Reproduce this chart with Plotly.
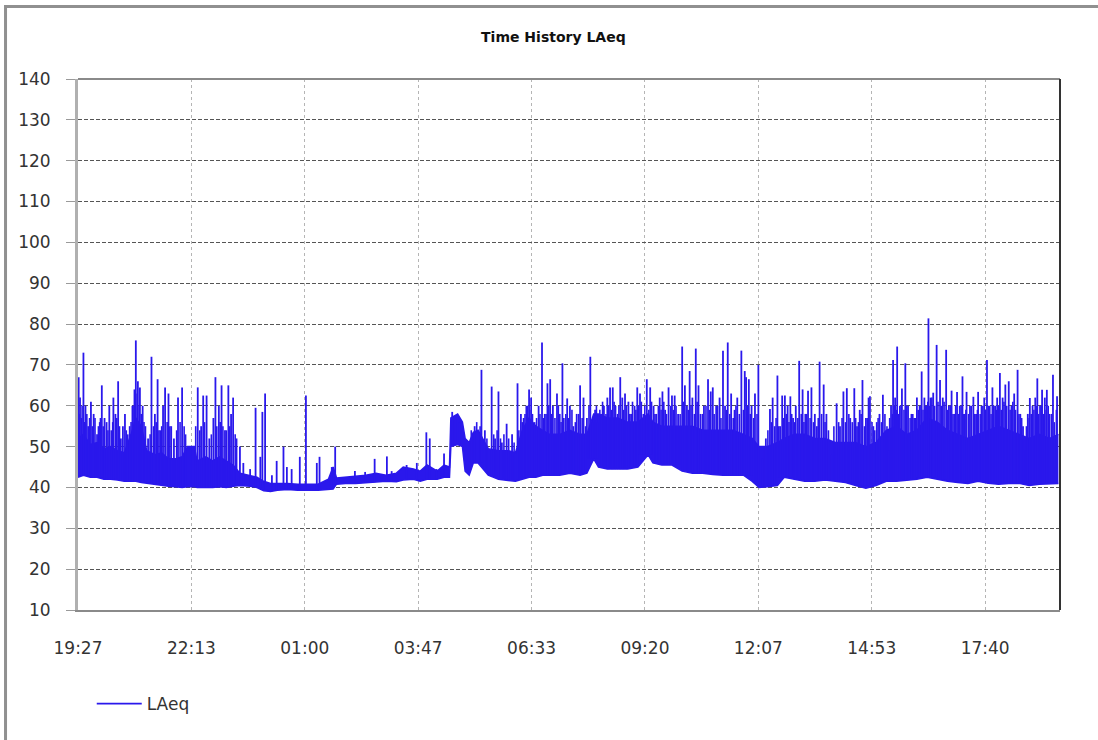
import bisect
from datetime import datetime, timedelta

import plotly.graph_objects as go

# ---- data -------------------------------------------------------------
# Axis tick labels (one every 10000 s starting at 19:27)
tick_labels = ["19:27", "22:13", "01:00", "03:47", "06:33",
               "09:20", "12:07", "14:53", "17:40"]

# Dense body of the LAeq record: lower and upper envelope (dB) at clock times
band_time = [
    "19:27", "19:35", "19:45", "19:55", "20:05", "20:15", "20:25", "20:35", "20:45", "20:52",
    "21:00", "21:08", "21:20", "21:30", "21:40", "21:50", "22:00", "22:08", "22:18", "22:22",
    "22:35", "22:45", "22:55", "23:05", "23:15", "23:25", "23:40", "23:50", "00:00", "00:10",
    "00:20", "00:35", "00:50", "01:05", "01:20", "01:35", "01:42", "01:47", "02:00", "02:15",
    "02:30", "02:45", "03:00", "03:15", "03:25", "03:40", "03:50", "04:00", "04:15", "04:25",
    "04:33", "04:35", "04:45", "04:52", "04:56", "05:02", "05:08", "05:15", "05:22", "05:30",
    "05:45", "06:00", "06:10", "06:20", "06:30", "06:40", "06:50", "07:00", "07:15", "07:30",
    "07:45", "07:55", "08:05", "08:12", "08:25", "08:40", "08:55", "09:10", "09:25", "09:32",
    "09:45", "10:00", "10:15", "10:30", "10:45", "11:00", "11:15", "11:30", "11:45", "11:58",
    "12:08", "12:20", "12:35", "12:45", "13:00", "13:15", "13:30", "13:45", "14:00", "14:15",
    "14:30", "14:45", "15:00", "15:15", "15:30", "15:45", "16:00", "16:15", "16:30", "16:45",
    "17:00", "17:15", "17:30", "17:45", "18:00", "18:15", "18:30", "18:45", "19:00", "19:15",
    "19:28",
]
band_floor = [
    42.5, 43.0, 42.5, 42.5, 42.0, 42.0, 41.8, 41.5, 41.5, 41.5,
    41.2, 41.0, 40.8, 40.5, 40.3, 40.2, 40.0, 40.2, 40.2, 40.0,
    40.0, 40.0, 40.2, 40.0, 40.3, 40.5, 40.3, 40.0, 39.2, 39.0,
    39.3, 39.5, 39.3, 39.4, 39.3, 39.5, 39.6, 40.8, 41.0, 41.0,
    41.2, 41.3, 41.5, 41.4, 41.8, 42.0, 41.5, 42.0, 42.0, 42.5,
    42.5, 50.0, 50.5, 50.0, 44.0, 43.0, 46.0, 46.0, 44.5, 43.0,
    42.0, 41.8, 41.5, 42.0, 42.5, 42.5, 43.0, 43.0, 43.0, 43.5,
    43.0, 43.5, 47.0, 45.0, 44.5, 44.5, 44.5, 45.0, 48.0, 46.0,
    45.5, 45.5, 44.0, 43.5, 43.5, 43.2, 43.0, 43.0, 43.0, 41.5,
    40.0, 40.2, 40.5, 42.5, 42.0, 41.5, 41.5, 41.8, 41.5, 41.2,
    40.5, 39.8, 40.5, 41.5, 41.5, 41.8, 42.0, 42.5, 42.0, 41.5,
    41.2, 41.0, 41.5, 41.0, 40.8, 41.0, 41.0, 40.5, 40.8, 41.0,
    41.0,
]
band_top = [
    52.0, 53.0, 50.5, 51.0, 49.5, 50.0, 49.0, 48.5, 53.0, 57.0,
    55.0, 49.0, 48.0, 48.5, 47.0, 47.0, 47.5, 50.0, 50.0, 46.5,
    47.5, 46.5, 47.5, 46.5, 45.5, 43.5, 43.0, 42.5, 41.5, 41.0,
    41.0, 41.0, 40.8, 40.8, 40.8, 42.0, 45.0, 42.3, 42.5, 42.8,
    43.0, 43.5, 43.0, 43.5, 45.0, 44.5, 44.0, 45.5, 44.0, 45.5,
    45.0, 57.0, 58.0, 56.0, 52.0, 51.0, 53.5, 54.0, 52.0, 49.5,
    49.0, 49.0, 48.5, 54.0, 57.0, 55.0, 54.0, 53.0, 53.0, 54.0,
    53.0, 53.0, 58.0, 58.0, 57.0, 57.0, 56.0, 56.0, 58.0, 56.0,
    55.0, 55.0, 55.0, 55.0, 54.0, 54.0, 54.0, 54.0, 53.0, 52.0,
    50.0, 50.0, 51.0, 52.0, 53.0, 53.0, 52.0, 52.0, 51.0, 51.0,
    51.0, 50.0, 51.0, 54.0, 55.0, 53.0, 54.0, 57.0, 56.0, 54.0,
    53.0, 52.0, 53.0, 54.0, 55.0, 54.0, 53.0, 52.0, 53.0, 52.0,
    53.0,
]

# Distinct noise events above the body: clock time and peak level (dB)
spike_time = [
    "19:28", "19:30", "19:32", "19:35", "19:38", "19:42", "19:46", "19:50", "19:55", "19:59",
    "20:02", "20:06", "20:09", "20:13", "20:16", "20:19", "20:22", "20:26", "20:30", "20:33",
    "20:36", "20:40", "20:43", "20:47", "20:50", "20:52", "20:55", "20:58", "21:02", "21:06",
    "21:10", "21:15", "21:20", "21:24", "21:28", "21:32", "21:35", "21:40", "21:44", "21:48",
    "21:54", "22:00", "22:05", "22:13", "22:23", "22:28", "22:31", "22:36", "22:40", "22:46",
    "22:49", "22:54", "22:58", "23:03", "23:08", "23:12", "23:15", "23:20", "23:25", "23:30",
    "23:40", "23:48", "23:55", "23:58", "00:02", "00:12", "00:19", "00:29", "00:34", "00:41",
    "00:53", "01:02", "01:18", "01:22", "01:40", "01:45", "02:14", "02:29", "02:43", "03:01",
    "03:08", "03:30", "03:45", "03:59", "04:04", "04:14", "04:25", "04:37", "04:42", "04:48",
    "05:10", "05:20", "05:25", "05:35", "05:40", "05:45", "05:50", "05:57", "06:05", "06:13",
    "06:18", "06:22", "06:26", "06:30", "06:33", "06:38", "06:44", "06:49", "06:53", "06:57",
    "07:01", "07:05", "07:11", "07:15", "07:19", "07:21", "07:26", "07:30", "07:35", "07:40",
    "07:45", "07:50", "07:55", "08:00", "08:03", "08:07", "08:11", "08:16", "08:20", "08:25",
    "08:29", "08:33", "08:37", "08:44", "08:47", "08:51", "08:56", "09:00", "09:05", "09:09",
    "09:13", "09:18", "09:23", "09:28", "09:33", "09:37", "09:42", "09:46", "09:50", "09:55",
    "10:00", "10:04", "10:09", "10:15", "10:19", "10:22", "10:26", "10:30", "10:35", "10:39",
    "10:42", "10:47", "10:53", "10:57", "11:00", "11:05", "11:10", "11:15", "11:18", "11:22",
    "11:27", "11:32", "11:36", "11:42", "11:47", "11:49", "11:53", "11:57", "12:02", "12:07",
    "12:13", "12:18", "12:24", "12:28", "12:31", "12:35", "12:39", "12:42", "12:46", "12:50",
    "12:54", "12:58", "13:02", "13:07", "13:12", "13:16", "13:20", "13:25", "13:30", "13:33",
    "13:37", "13:43", "13:47", "13:55", "14:02", "14:07", "14:12", "14:17", "14:22", "14:28",
    "14:32", "14:36", "14:40", "14:45", "14:49", "14:51", "14:56", "15:01", "15:05", "15:10",
    "15:18", "15:22", "15:25", "15:28", "15:31", "15:35", "15:38", "15:43", "15:47", "15:52",
    "15:56", "16:00", "16:04", "16:07", "16:11", "16:14", "16:17", "16:20", "16:24", "16:29",
    "16:34", "16:38", "16:43", "16:47", "16:51", "16:55", "16:59", "17:03", "17:07", "17:10",
    "17:13", "17:18", "17:23", "17:27", "17:30", "17:35", "17:39", "17:43", "17:47", "17:51",
    "17:55", "17:58", "18:02", "18:06", "18:10", "18:15", "18:19", "18:23", "18:28", "18:32",
    "18:36", "18:39", "18:43", "18:46", "18:50", "18:54", "18:57", "19:01", "19:04", "19:08",
    "19:11", "19:15", "19:20", "19:23", "19:26",
]
spike_peak = [
    67.0, 62.0, 57.0, 73.0, 60.0, 55.0, 61.0, 58.0, 53.0, 56.0,
    65.0, 57.0, 56.0, 60.0, 54.0, 62.0, 58.0, 66.0, 52.0, 55.0,
    58.0, 53.0, 55.0, 60.0, 64.0, 76.0, 66.0, 64.5, 60.0, 55.0,
    52.0, 72.0, 58.0, 66.5, 54.0, 60.0, 64.5, 63.0, 55.0, 52.0,
    62.0, 64.5, 53.0, 50.0, 64.5, 55.0, 62.5, 62.5, 52.0, 57.0,
    67.0, 60.0, 65.0, 54.0, 65.0, 58.0, 62.0, 52.0, 50.0, 46.0,
    44.5, 59.5, 47.5, 58.5, 63.0, 43.0, 46.5, 50.0, 45.0, 44.5,
    47.5, 62.5, 46.0, 47.5, 45.0, 50.0, 44.0, 43.8, 47.0, 47.6,
    44.0, 45.5, 46.0, 53.5, 52.0, 44.5, 48.3, 58.5, 57.0, 56.0,
    55.0, 68.8, 54.0, 64.7, 52.0, 63.5, 51.0, 55.6, 53.0, 65.5,
    58.0, 57.0, 60.0, 64.0, 62.0, 56.0, 60.0, 75.5, 58.0, 65.5,
    66.5, 60.0, 63.0, 58.0, 70.4, 57.0, 61.8, 60.0, 55.0, 58.0,
    65.0, 62.0, 57.0, 72.0, 56.0, 59.0, 56.0, 58.0, 60.0, 62.0,
    64.5, 64.5, 60.0, 67.0, 62.0, 63.0, 61.0, 58.0, 60.0, 64.5,
    63.0, 58.0, 66.5, 64.5, 60.0, 58.0, 62.0, 63.5, 59.0, 64.5,
    62.5, 62.5, 58.0, 74.5, 65.0, 60.0, 68.5, 62.0, 74.0, 65.0,
    58.0, 60.0, 66.5, 63.5, 64.5, 60.0, 62.0, 73.5, 60.0, 75.5,
    63.0, 59.0, 62.0, 73.5, 68.5, 67.0, 66.5, 60.0, 63.0, 70.0,
    47.0, 52.0, 59.2, 62.0, 55.0, 67.4, 55.0, 62.5, 62.5, 60.0,
    62.3, 57.0, 60.0, 71.0, 64.0, 58.0, 63.7, 64.5, 58.0, 55.0,
    70.8, 65.2, 58.0, 48.0, 60.6, 55.0, 63.5, 64.3, 57.0, 64.3,
    55.0, 59.0, 66.3, 57.0, 62.0, 62.3, 55.0, 56.0, 58.0, 62.7,
    49.0, 60.0, 71.2, 62.0, 74.5, 60.0, 64.2, 70.4, 60.0, 58.0,
    57.0, 62.0, 60.0, 68.4, 62.0, 60.0, 81.4, 62.0, 63.2, 74.9,
    66.3, 62.0, 73.7, 60.0, 63.7, 58.0, 63.4, 60.0, 67.2, 58.0,
    63.4, 60.0, 62.2, 58.0, 63.4, 60.0, 62.0, 71.2, 60.0, 64.5,
    60.0, 62.0, 68.0, 62.0, 65.2, 66.0, 60.0, 63.0, 68.8, 58.0,
    55.0, 49.0, 58.0, 61.9, 60.0, 62.0, 66.7, 60.0, 63.9, 62.0,
    63.9, 58.0, 67.6, 45.0, 62.3,
]

# Smaller, frequent fluctuations that thicken the upper part of the trace
minor_time = [
    "19:29", "19:33", "19:37", "19:40", "19:44", "19:48", "19:52", "19:57", "20:00", "20:04",
    "20:11", "20:18", "20:24", "20:28", "20:38", "20:45", "20:48", "20:51", "20:54", "20:57",
    "21:00", "21:04", "21:13", "21:18", "21:22", "21:26", "21:30", "21:38", "21:42", "21:52",
    "21:57", "22:03", "22:20", "22:26", "22:33", "22:43", "22:51", "22:56", "23:00", "23:05",
    "23:10", "23:18",
    "05:05", "05:13", "05:18", "05:28", "05:38", "05:43", "05:48", "05:53", "06:00", "06:08",
    "06:15", "06:20", "06:24", "06:28", "06:31", "06:35", "06:41", "06:46", "06:51", "06:55",
    "06:59",
    "07:03", "07:08", "07:13", "07:17", "07:24", "07:28", "07:33", "07:38", "07:43", "07:48",
    "07:53", "07:58", "08:05", "08:09", "08:14", "08:18", "08:23", "08:27", "08:31", "08:35",
    "08:40", "08:42", "08:49", "08:53", "08:58", "09:02", "09:07", "09:11", "09:15", "09:20",
    "09:26", "09:30", "09:35", "09:40", "09:44", "09:48", "09:52", "09:58", "10:02", "10:06",
    "10:12", "10:17", "10:24", "10:28", "10:33", "10:37", "10:45", "10:50", "10:55", "11:02",
    "11:07", "11:12", "11:20", "11:25", "11:30", "11:34", "11:39", "11:45", "11:51", "11:55",
    "12:00", "12:05", "12:16", "12:21", "12:26", "12:33", "12:37", "12:44", "12:48", "12:52",
    "12:56", "13:00", "13:05", "13:10", "13:14", "13:18", "13:23", "13:28", "13:35", "13:40",
    "13:45", "13:50", "13:58", "14:05", "14:10", "14:15", "14:20", "14:25", "14:30", "14:34",
    "14:38", "14:43", "14:47", "14:54", "14:58", "15:03", "15:08", "15:13", "15:16", "15:20",
    "15:24", "15:27", "15:30", "15:33", "15:37", "15:41", "15:45", "15:50", "15:54", "15:58",
    "16:02", "16:06", "16:09", "16:13", "16:16", "16:19", "16:22", "16:26", "16:31", "16:36",
    "16:40", "16:45", "16:49", "16:53", "16:57", "17:01", "17:05", "17:09", "17:12", "17:16",
    "17:20", "17:25", "17:29", "17:33", "17:37", "17:41", "17:45", "17:49", "17:53", "17:57",
    "18:00", "18:04", "18:08", "18:12", "18:17", "18:21", "18:25", "18:30", "18:34", "18:41",
    "18:45", "18:48", "18:52", "18:56", "18:59", "19:03", "19:06", "19:10", "19:13", "19:18",
    "19:22", "19:25",
]
minor_peak = [
    58, 60, 56, 58, 57, 55, 57, 55, 57, 55,
    54, 56, 57, 55, 54, 56, 60, 62, 63, 60,
    58, 56, 53, 55, 56, 54, 55, 56, 55, 54,
    56, 55, 55, 54, 56, 53, 55, 56, 55, 54,
    55, 53,
    54, 56, 55, 52, 53, 54, 52, 53, 52, 51,
    54, 56, 58, 60, 59, 58, 57, 58, 57, 58,
    60,
    58, 57, 60, 56, 58, 57, 59, 56, 58, 57,
    55, 60, 58, 60, 59, 61, 58, 60, 59, 61,
    58, 60, 59, 60, 58, 61, 59, 60, 61, 60,
    59, 61, 58, 60, 59, 61, 58, 60, 59, 60,
    58, 61, 59, 60, 58, 61, 58, 60, 59, 58,
    60, 57, 59, 58, 57, 60, 58, 59, 60, 58,
    57, 58, 50, 54, 56, 57, 55, 57, 58, 56,
    58, 56, 57, 58, 56, 58, 57, 56, 57, 58,
    56, 54, 55, 56, 57, 56, 58, 56, 57, 56,
    58, 55, 57, 56, 54, 57, 56, 58, 55, 57,
    58, 60, 59, 58, 60, 59, 60, 57, 58, 57,
    59, 60, 59, 60, 61, 60, 62, 60, 61, 60,
    61, 59, 60, 58, 60, 58, 60, 58, 59, 58,
    60, 58, 59, 58, 60, 59, 60, 58, 60, 59,
    60, 59, 61, 60, 59, 61, 59, 58, 57, 55,
    57, 58, 59, 60, 58, 60, 58, 59, 60, 58,
    56, 59,
]

# ---- helpers ----------------------------------------------------------
DAY0 = datetime(2000, 1, 1)
START = datetime(2000, 1, 1, 19, 27)


def clock_to_datetime(labels):
    """Turn a chronological list of HH:MM strings into datetimes,
    rolling over to the next day after midnight."""
    out, day, prev = [], 0, None
    for s in labels:
        h, m = map(int, s.split(":"))
        mins = h * 60 + m
        if prev is not None and mins < prev:
            day += 1
        prev = mins
        out.append(DAY0 + timedelta(days=day, minutes=mins))
    return out


band_dt = clock_to_datetime(band_time)


def event_segments(times, peaks):
    """Vertical strokes rising from the body floor of the interval each event falls in."""
    xs, ys = [], []
    for t, peak in zip(clock_to_datetime(times), peaks):
        i = bisect.bisect_right(band_dt, t) - 1
        i = min(max(i, 0), len(band_dt) - 2)
        base = max(band_floor[i], band_floor[i + 1])
        xs += [t, t, None]
        ys += [base, peak, None]
    return xs, ys


spike_x, spike_y = event_segments(spike_time, spike_peak)
minor_x, minor_y = event_segments(minor_time, minor_peak)

BLUE = "#2a18ec"

fig = go.Figure()
fig.add_trace(go.Scatter(
    x=band_dt, y=band_floor, mode="lines",
    line=dict(color=BLUE, width=1.5), showlegend=False, hoverinfo="skip",
))
fig.add_trace(go.Scatter(
    x=band_dt, y=band_top, mode="lines", fill="tonexty", fillcolor=BLUE,
    line=dict(color=BLUE, width=1.5), showlegend=False, hoverinfo="skip",
))
fig.add_trace(go.Scatter(
    x=minor_x, y=minor_y, mode="lines", showlegend=False, hoverinfo="skip",
    line=dict(color=BLUE, width=1.6), connectgaps=False,
))
fig.add_trace(go.Scatter(
    x=spike_x, y=spike_y, mode="lines", name="LAeq",
    line=dict(color=BLUE, width=1.8), connectgaps=False,
))

tick_vals = [START + timedelta(seconds=10000 * k) for k in range(len(tick_labels))]

fig.update_layout(
    width=1098, height=740,
    margin=dict(l=78, r=38, t=79, b=130),
    paper_bgcolor="white", plot_bgcolor="white",
    font=dict(family="DejaVu Sans", size=17, color="#333333"),
    title=dict(
        text="<b>Time History LAeq</b>",
        x=0.504, xref="container", xanchor="center",
        y=1 - 37 / 740, yref="container", yanchor="middle",
        font=dict(family="DejaVu Sans", size=14, color="#111111"),
    ),
    showlegend=True,
    legend=dict(
        x=0.014, y=-0.177, xanchor="left", yanchor="middle",
        font=dict(size=17, color="#333333"), bgcolor="rgba(0,0,0,0)",
        itemwidth=45,
    ),
    xaxis=dict(
        type="date",
        range=[START, START + timedelta(seconds=86600)],
        tickmode="array", tickvals=tick_vals, ticktext=tick_labels,
        showgrid=True, gridcolor="#b5b5b5", gridwidth=1, griddash="dot",
        ticks="", showline=True, linecolor="#8a8a8a", linewidth=2,
        ticklabelstandoff=22, zeroline=False,
    ),
    yaxis=dict(
        range=[10, 140], tick0=10, dtick=10,
        showgrid=True, gridcolor="#555555", gridwidth=1, griddash="4px,2px",
        ticks="outside", ticklen=9, tickcolor="#9a9a9a", tickwidth=1,
        showline=True, linecolor="#b0b0b0", linewidth=3,
        ticklabelstandoff=12, zeroline=False,
    ),
    shapes=[
        # frame around the whole chart
        dict(type="rect", xref="paper", yref="paper",
             x0=-0.0738, x1=1.1, y0=-0.3, y1=1.1365,
             line=dict(color="#909090", width=3), fillcolor="rgba(0,0,0,0)",
             layer="below"),
        # top and right edges of the plot box
        dict(type="line", xref="paper", yref="paper", x0=0, x1=1, y0=1, y1=1,
             line=dict(color="#8a8a8a", width=2)),
        dict(type="line", xref="paper", yref="paper", x0=1, x1=1, y0=0, y1=1,
             line=dict(color="#333333", width=2)),
    ],
)

fig.write_html("out.html")
